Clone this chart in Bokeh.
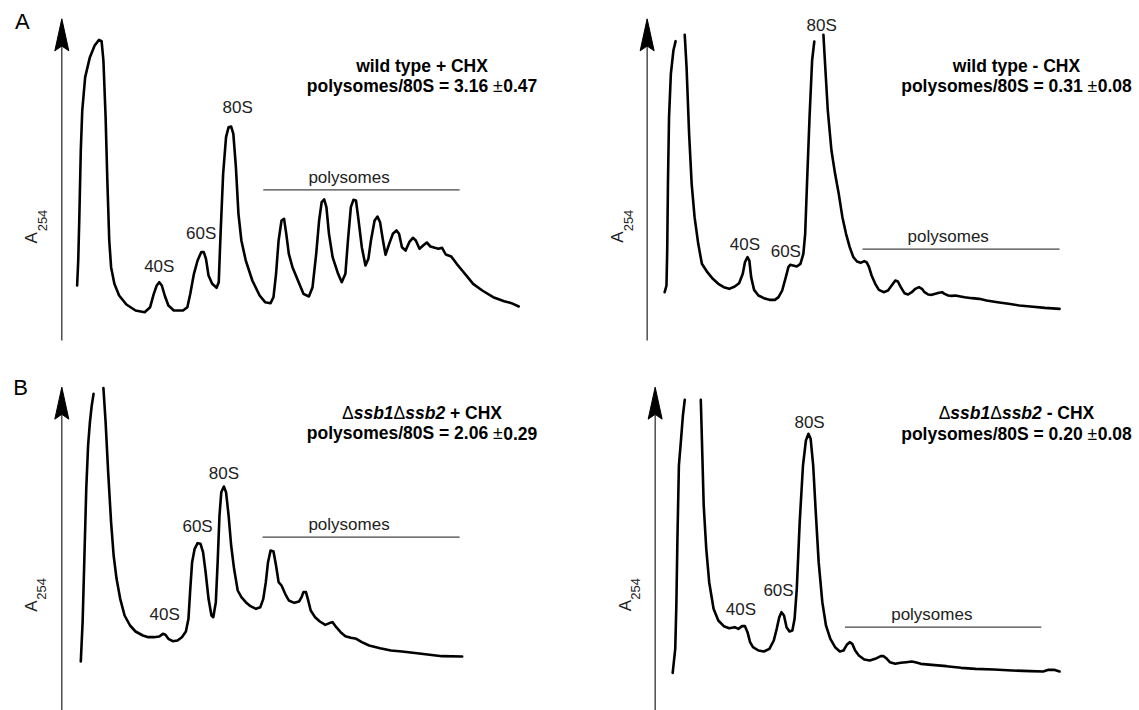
import math
from bokeh.plotting import figure
from bokeh.layouts import column, row
from bokeh.models import Range1d
from bokeh.embed import file_html
from bokeh.resources import INLINE
from bokeh.core.properties import value

NAN = float("nan")

# ---------------- data (position and A254 in arbitrary units) ----------
# wild type + CHX
wt_chx_pos = [210, 213, 216, 220, 224, 232, 245, 258, 270, 277, 282, 288, 293, 298, 303, 312, 325, 345, 370, 395,
              410, 420, 428, 435, 442, 450, 460, 475, 500, 512, 520, 530, 540, 550, 557, 563, 570, 580, 592, 598,
              603, 610, 618, 625, 632, 638, 645, 652, 660, 672, 690, 710, 725, 740, 748, 755, 762, 770, 777, 783,
              790, 800, 815, 830, 845, 855, 865, 873, 880, 887, 893, 900, 910, 925, 935, 945, 952, 960, 967, 974,
              980, 990, 1000, 1008, 1015, 1025, 1033, 1040, 1048, 1055, 1065, 1075, 1085, 1092, 1100, 1110, 1120,
              1130, 1138, 1148, 1158, 1168, 1178, 1190, 1200, 1210, 1220, 1235, 1250, 1265, 1280, 1295, 1320, 1350,
              1380, 1400, 1420]
wt_chx_a254 = [145, 220, 350, 550, 670, 770, 830, 865, 882, 878, 820, 650, 450, 280, 200, 150, 115, 88, 70, 65,
               80, 120, 145, 155, 145, 115, 85, 70, 70, 80, 120, 180, 220, 245, 245, 225, 175, 150, 138, 155,
               300, 480, 590, 620, 622, 600, 500, 360, 280, 220, 160, 115, 95, 92, 110, 180, 280, 340, 345, 300,
               240, 200, 160, 120, 112, 140, 240, 340, 395, 403, 380, 300, 230, 180, 155, 180, 280, 380, 402, 400,
               350, 260, 205, 225, 280, 340, 352, 335, 280, 237, 270, 300, 310, 300, 260, 250, 275,
               288, 280, 255, 265, 274, 262, 258, 255, 258, 238, 232, 210, 190, 170, 150, 130, 110,
               98, 92, 82]

# wild type - CHX (NaN = trace leaves the drawing at the top)
wt_nochx_pos = [258, 263, 265, 267, 270, 275, 282, 288, NAN,
                313, 318, 325, 332, 340, 350, 360, 375, 390, 405, 420, 435, 450, 462, 472, 478, 485, 490, 495, 503,
                515, 530, 545, 560, 570, 580, 590, 597, 602, 610, 620, 630, 638, 643, 648, 655, 662, 668, NAN,
                693, 697, 705, 715, 725, 735, 745, 755, 765, 775, 785, 795, 805, 812, 818, 825, 835, 845, 858, 870,
                880, 890, 897, 905, 915, 925, 935, 945, 955, 963, 970, 980, 990, 1000, 1010, 1018, 1025, 1035, 1045,
                1055, 1065, 1080, 1100, 1120, 1140, 1170, 1200, 1230, 1260, 1300, 1340]
wt_nochx_a254 = [125, 145, 250, 450, 650, 780, 850, 878, NAN,
                 897, 800, 600, 450, 350, 270, 210, 185, 165, 150, 140, 135, 142, 152, 180, 215, 230, 220, 170, 132,
                 115, 107, 102, 102, 110, 130, 170, 200, 207, 205, 202, 210, 240, 300, 450, 650, 820, 877, NAN,
                 897, 820, 670, 550, 480, 420, 350, 300, 260, 230, 217, 213, 218, 214, 200, 175, 150, 132, 125, 130,
                 145, 160, 157, 140, 122, 118, 125, 135, 140, 135, 125, 118, 117, 120, 123, 125, 120, 115, 114,
                 115, 113, 110, 107, 105, 100, 95, 90, 85, 82, 78, 75]

# ssb1/ssb2 deletion + CHX
ssb_chx_pos = [220, 225, 230, 235, 240, 245, 250, 255, NAN,
               282, 288, 295, 303, 310, 318, 328, 340, 355, 370, 390, 405, 420, 435, 445, 452, 460, 472, 485, 497,
               508, 515, 520, 525, 532, 540, 548, 555, 562, 570, 578, 583, 590, 595, 600, 605, 612, 618, 625, 632,
               640, 650, 660, 672, 685, 700, 712, 720, 727, 733, 740, 748, 755, 762, 770, 780, 790, 805, 818, 825,
               830, 837, 842, 850, 862, 875, 890, 903, 910, 920, 932, 945, 960, 975, 990, 1010, 1040, 1070, 1100,
               1130, 1170, 1210, 1265]
ssb_chx_a254 = [82, 200, 400, 600, 730, 800, 850, 885, NAN,
                902, 800, 650, 500, 400, 330, 270, 220, 190, 172, 160, 155, 155, 157, 165, 162, 150, 143, 145, 155,
                172, 210, 300, 380, 420, 437, 435, 410, 350, 270, 220, 215, 260, 380, 520, 590, 607, 590, 520, 430,
                360, 295, 275, 260, 248, 240, 245, 270, 320, 380, 415, 412, 370, 320, 310, 285, 265, 258, 262, 275,
                290, 290, 270, 235, 215, 202, 192, 198, 200, 185, 170, 158, 153, 150, 140, 130, 122, 115, 112,
                108, 103, 98, 97]

# ssb1/ssb2 deletion - CHX
ssb_nochx_pos = [280, 287, 290, 293, 297, 303, 308, 313, NAN,
                 357, 360, 365, 372, 380, 392, 405, 420, 435, 450, 460, 470, 478, 485, 492, 500, 515, 530, 545, 557,
                 565, 572, 578, 585, 592, 600, 608, 614, 620, 628, 637, 645, 652, 658, 665, 672, 680, 690, 700, 712,
                 725, 738, 748, 757, 765, 772, 780, 790, 805, 820, 835, 850, 858, 865, 875, 890, 905, 920, 935, 945,
                 960, 990, 1030, 1070, 1110, 1160, 1210, 1260, 1295, 1310, 1325, 1340]
ssb_nochx_a254 = [48, 120, 250, 450, 670, 750, 820, 867, NAN,
                  867, 750, 550, 420, 320, 240, 205, 188, 182, 185, 180, 188, 188, 170, 140, 125, 115, 112, 120, 145,
                  180, 215, 230, 220, 185, 172, 175, 210, 300, 500, 670, 745, 765, 750, 670, 530, 380, 260, 190, 150,
                  125, 112, 115, 132, 140, 135, 115, 100, 88, 85, 90, 98, 98, 92, 80, 75, 78, 80, 82, 80,
                  75, 72, 68, 63, 60, 58, 55, 53, 52, 57, 57, 52]

peak_labels = ["40S", "60S", "80S"]
wt_chx_label_pos = [435, 550, 650]
wt_chx_label_a = [203, 300, 678]
wt_nochx_label_pos = [478, 590, 688]
wt_nochx_label_a = [268, 248, 925]
ssb_chx_label_pos = [450, 540, 612]
ssb_chx_label_a = [223, 488, 645]
ssb_nochx_label_pos = [467, 570, 655]
ssb_nochx_label_a = [238, 295, 798]

poly_text = "polysomes"
# polysome bar: start, end, level, text position
wt_chx_poly = [720, 1258, 432, 955, 470]
wt_nochx_poly = [800, 1340, 254, 1035, 292]
ssb_chx_poly = [718, 1258, 455, 955, 492]
ssb_nochx_poly = [752, 1290, 185, 990, 222]

ratio_means = ["3.16", "0.31", "2.06", "0.20"]
ratio_sds = ["0.47", "0.08", "0.29", "0.08"]
cond_lines = ["wild type + CHX", "wild type - CHX"]
title_centers = [(1155, 805, 745), (1222, 803, 745), (1155, 827, 767), (1222, 827, 765)]

# ---------------- styling / layout ----------------
SX, SY = 2.74, 3.0   # trace units per screen pixel
FONT = value("Liberation Sans")
FS = 17
TFS = 17.5
ARROW_LEN, ARROW_HW = 32 * SY, 7 * SX

# Arial / Liberation Sans advance widths (em)
W_BOLD = {" ": .278, "+": .584, "-": .333, "C": .722, "H": .722, "X": .667, "S": .667,
          "w": .778, "i": .278, "l": .278, "d": .611, "t": .333, "y": .556, "p": .611, "e": .556,
          "o": .611, "m": .889, "s": .556, "/": .278, "=": .584, ".": .278}
W_BI = {"s": .556, "b": .611}
W_REG = {"\u0394": .667, "\u00b1": .584}


def width(s, table):
    return sum(table.get(c, .556) for c in s)


def make_panel(box, origin, w, h):
    L, T, R, B = box
    ox, oy = origin
    p = figure(width=w, height=h, output_backend="svg", toolbar_location=None,
               x_range=Range1d((L - ox) * SX, (R - ox) * SX),
               y_range=Range1d(1000 - (B - oy) * SY, 1000 - (T - oy) * SY),
               x_axis_type=None, y_axis_type=None, min_border=0)
    p.outline_line_color = None
    p.background_fill_color = "white"
    p.border_fill_color = "white"
    return p


def draw_axis(p, ax, bottom, tip, lab_a, lab_sub):
    p.segment(x0=[ax], y0=[bottom], x1=[ax], y1=[tip - ARROW_LEN * 0.6], line_width=1.2, line_color="#222222")
    p.patch([ax, ax + ARROW_HW, ax, ax - ARROW_HW],
            [tip, tip - ARROW_LEN, tip - ARROW_LEN * 0.85, tip - ARROW_LEN],
            fill_color="black", line_color="black", line_width=1)
    p.text(x=[lab_a[0]], y=[lab_a[1]], text=["A"], angle=math.pi / 2, text_font=FONT,
           text_font_size="17px", text_align="center", text_baseline="middle", text_color="#222222")
    p.text(x=[lab_sub[0]], y=[lab_sub[1]], text=["254"], angle=math.pi / 2, text_font=FONT,
           text_font_size="13px", text_align="center", text_baseline="middle", text_color="#222222")


def draw_profile(p, pos, a254, lpos, la, poly):
    p.line(pos, a254, line_width=2.6, line_color="black", line_join="round", line_cap="round")
    p.text(x=lpos, y=la, text=peak_labels, text_font=FONT, text_font_size=f"{FS}px",
           text_align="center", text_baseline="middle", text_color="#222222")
    p.segment(x0=[poly[0]], y0=[poly[2]], x1=[poly[1]], y1=[poly[2]], line_width=1.3, line_color="#444444")
    p.text(x=[poly[3]], y=[poly[4]], text=[poly_text], text_font=FONT, text_font_size=f"{FS}px",
           text_align="center", text_baseline="middle", text_color="#222222")


def draw_pieces(p, cx, y, pieces):
    # pieces: (text, style, width_em, gap_before_em), centred as a whole on cx
    total = sum(pc[2] + pc[3] for pc in pieces) * TFS
    off = -total / 2
    for txt, style, wem, gap in pieces:
        off += gap * TFS
        p.text(x=[cx], y=[y], text=[txt], x_offset=off, text_font=FONT, text_font_size=f"{TFS}px",
               text_font_style=style, text_align="left", text_baseline="middle", text_color="black")
        off += wem * TFS


def ratio_pieces(mean, sd):
    head = "polysomes/80S = " + mean
    return [(head, "bold", width(head, W_BOLD), 0), ("\u00b1", "normal", W_REG["\u00b1"], .278),
            (sd, "bold", width(sd, W_BOLD), 0)]


def ssb_pieces(sign):
    tail = sign + " CHX"
    return [("\u0394", "normal", W_REG["\u0394"], 0), ("ssb1", "bold italic", width("ssb1", W_BI), 0),
            ("\u0394", "normal", W_REG["\u0394"], 0), ("ssb2", "bold italic", width("ssb2", W_BI), 0),
            (tail, "bold", width(tail, W_BOLD), .278)]


# panels: (box in page pixels, trace origin)
p1 = make_panel((0, 0, 570, 355), (0, 0), 570, 355)
p2 = make_panel((570, 0, 1139, 355), (570, 0), 569, 355)
p3 = make_panel((0, 355, 570, 710), (0, 355), 570, 355)
p4 = make_panel((570, 355, 1139, 710), (570, 355), 569, 355)
panels = [p1, p2, p3, p4]

draw_axis(p1, 168, -20, 945, (84, 288), (115, 340))
draw_axis(p2, 210, -20, 945, (130, 290), (158, 340))
draw_axis(p3, 168, -70, 905, (85, 248), (113, 300))
draw_axis(p4, 232, -70, 905, (150, 250), (178, 300))

draw_profile(p1, wt_chx_pos, wt_chx_a254, wt_chx_label_pos, wt_chx_label_a, wt_chx_poly)
draw_profile(p2, wt_nochx_pos, wt_nochx_a254, wt_nochx_label_pos, wt_nochx_label_a, wt_nochx_poly)
draw_profile(p3, ssb_chx_pos, ssb_chx_a254, ssb_chx_label_pos, ssb_chx_label_a, ssb_chx_poly)
draw_profile(p4, ssb_nochx_pos, ssb_nochx_a254, ssb_nochx_label_pos, ssb_nochx_label_a, ssb_nochx_poly)

line1s = [[(cond_lines[0], "bold", width(cond_lines[0], W_BOLD), 0)],
          [(cond_lines[1], "bold", width(cond_lines[1], W_BOLD), 0)],
          ssb_pieces("+"), ssb_pieces("-")]
for p, (cx, y1, y2), l1, m, s in zip(panels, title_centers, line1s, ratio_means, ratio_sds):
    draw_pieces(p, cx, y1, l1)
    draw_pieces(p, cx, y2, ratio_pieces(m, s))

p1.text(x=[60], y=[938], text=["A"], text_font=FONT, text_font_size="22px",
        text_align="center", text_baseline="middle", text_color="black")
p3.text(x=[55], y=[903], text=["B"], text_font=FONT, text_font_size="22px",
        text_align="center", text_baseline="middle", text_color="black")

layout = column(row(p1, p2, spacing=0), row(p3, p4, spacing=0), spacing=0)
open("out.html", "w").write(file_html(layout, INLINE))
